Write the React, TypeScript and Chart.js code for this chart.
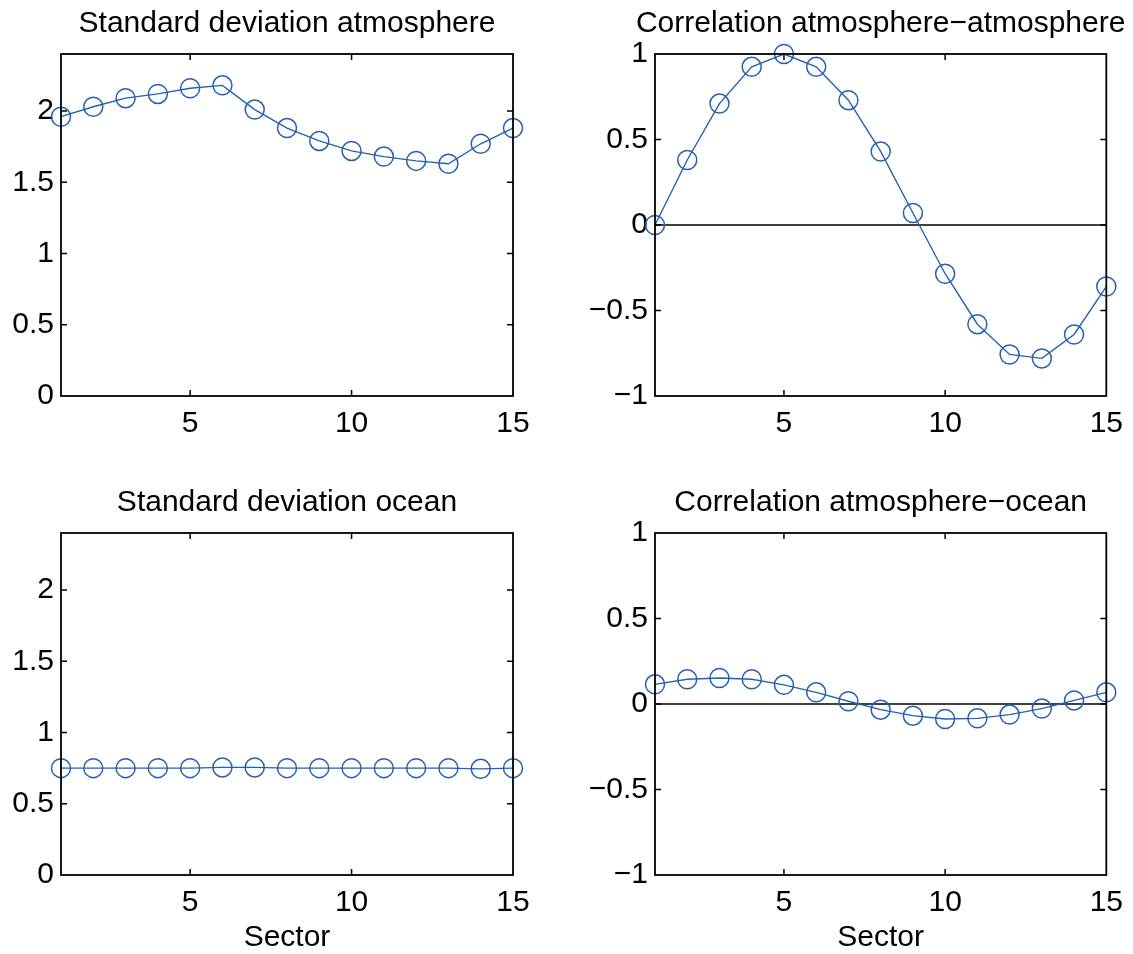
import React, { useEffect, useRef } from 'react';
import { Chart, registerables } from 'chart.js';

Chart.register(...registerables);

// ---- data ----
const SECTORS = [1, 2, 3, 4, 5, 6, 7, 8, 9, 10, 11, 12, 13, 14, 15];
const STD_ATMOSPHERE = [1.96, 2.03, 2.09, 2.12, 2.16, 2.18, 2.01, 1.88, 1.79, 1.72, 1.68, 1.65, 1.63, 1.77, 1.88];
const CORR_ATM_ATM = [0.0, 0.38, 0.71, 0.925, 1.0, 0.925, 0.73, 0.43, 0.07, -0.285, -0.58, -0.757, -0.78, -0.64, -0.36];
const STD_OCEAN = [0.75, 0.75, 0.75, 0.75, 0.75, 0.755, 0.755, 0.75, 0.75, 0.75, 0.75, 0.75, 0.75, 0.745, 0.75];
const CORR_ATM_OCEAN = [0.115, 0.145, 0.152, 0.145, 0.112, 0.068, 0.016, -0.033, -0.068, -0.088, -0.084, -0.062, -0.027, 0.021, 0.068];
const ZERO_LINE_X = [1, 15];
const X_TICKS = [5, 10, 15];
const STD_TICKS = [0, 0.5, 1, 1.5, 2];
const CORR_TICKS = [-1, -0.5, 0, 0.5, 1];
const TITLES = [
  'Standard deviation atmosphere',
  'Correlation atmosphere\u2212atmosphere',
  'Standard deviation ocean',
  'Correlation atmosphere\u2212ocean',
];
const X_TITLE = 'Sector';

const FONT_FAMILY = '"Liberation Sans", Arial, Helvetica, sans-serif';
const BLUE = '#2361b0';
const FONT_SIZE = 30;

const fmt = (v: number) => (v < 0 ? '\u2212' + String(Math.abs(v)) : String(v));

const framePlugin = {
  id: 'frame',
  afterDatasetsDraw(chart: any) {
    const { ctx, chartArea } = chart;
    const { left, right, top, bottom } = chartArea;
    const x = chart.scales.x;
    const y = chart.scales.y;
    const L = 6;
    ctx.save();
    ctx.strokeStyle = '#000';
    ctx.lineWidth = 1.5;
    ctx.beginPath();
    y.ticks.forEach((t: any) => {
      const py = y.getPixelForValue(t.value);
      if (py <= top + 1 || py >= bottom - 1) return;
      ctx.moveTo(left, py);
      ctx.lineTo(left + L, py);
      ctx.moveTo(right, py);
      ctx.lineTo(right - L, py);
    });
    x.ticks.forEach((t: any) => {
      const px = x.getPixelForValue(t.value);
      if (px <= left + 1 || px >= right - 1) return;
      ctx.moveTo(px, bottom);
      ctx.lineTo(px, bottom - L);
      ctx.moveTo(px, top);
      ctx.lineTo(px, top + L);
    });
    ctx.stroke();
    ctx.lineWidth = 1.8;
    ctx.strokeRect(left, top, right - left, bottom - top);
    // panel title, centred over the plot box
    const title = chart.options.plugins.panelTitle;
    if (title && title.text) {
      ctx.fillStyle = '#000';
      ctx.font = `normal ${FONT_SIZE}px ${FONT_FAMILY}`;
      ctx.textAlign = 'center';
      ctx.textBaseline = 'alphabetic';
      ctx.fillText(title.text, (left + right) / 2, top - title.gap);
    }
    ctx.restore();
  },
};

type Spec = {
  title: string;
  values: number[];
  yMin: number;
  yMax: number;
  yTicks: number[];
  zero: boolean;
  xTitle: boolean;
  left: number;
  top: number;
  width: number;
  height: number;
  axisW: number;
  axisH: number;
  padTop: number;
  padRight: number;
  titleGap: number;
};

function Panel({ spec }: { spec: Spec }) {
  const ref = useRef<HTMLCanvasElement>(null);
  useEffect(() => {
    const datasets: any[] = [
      {
        data: SECTORS.map((s, i) => ({ x: s, y: spec.values[i] })),
        borderColor: BLUE,
        borderWidth: 1.4,
        tension: 0,
        pointRadius: 9.5,
        pointHoverRadius: 9.5,
        pointBorderWidth: 1.5,
        pointBorderColor: BLUE,
        pointBackgroundColor: 'rgba(0,0,0,0)',
        order: 1,
        clip: false,
      },
    ];
    if (spec.zero) {
      datasets.push({
        data: ZERO_LINE_X.map((x) => ({ x, y: 0 })),
        borderColor: '#000',
        borderWidth: 1.4,
        pointRadius: 0,
        order: 2,
      });
    }
    const font = { family: FONT_FAMILY, size: FONT_SIZE, weight: 'normal' as const };
    const chart = new Chart(ref.current as HTMLCanvasElement, {
      type: 'line',
      data: { datasets },
      options: {
        responsive: false,
        animation: false,
        devicePixelRatio: 1,
        layout: { padding: { left: 0, top: spec.padTop, right: spec.padRight, bottom: 0 } },
        plugins: {
          legend: { display: false },
          tooltip: { enabled: false },
          title: { display: false },
          panelTitle: { text: spec.title, gap: spec.titleGap },
        },
        scales: {
          x: {
            type: 'linear',
            min: 1,
            max: 15,
            afterBuildTicks: (s: any) => {
              s.ticks = X_TICKS.map((v) => ({ value: v }));
            },
            afterFit: (s: any) => {
              s.height = spec.axisH;
            },
            grid: { display: false, drawTicks: false, tickLength: 0 },
            border: { display: false },
            ticks: {
              color: '#000',
              font,
              padding: 10,
              maxRotation: 0,
              autoSkip: false,
              callback: (v: any) => fmt(Number(v)),
            },
            title: {
              display: spec.xTitle,
              text: X_TITLE,
              color: '#000',
              font,
              padding: { top: 0, bottom: -2 },
            },
          },
          y: {
            type: 'linear',
            min: spec.yMin,
            max: spec.yMax,
            afterBuildTicks: (s: any) => {
              s.ticks = spec.yTicks.map((v) => ({ value: v }));
            },
            afterFit: (s: any) => {
              s.width = spec.axisW;
            },
            grid: { display: false, drawTicks: false, tickLength: 0 },
            border: { display: false },
            ticks: {
              color: '#000',
              font,
              padding: 7,
              autoSkip: false,
              callback: (v: any) => fmt(Number(v)),
            },
          },
        },
      } as any,
      plugins: [framePlugin],
    });
    return () => chart.destroy();
  }, []);
  return (
    <canvas
      ref={ref}
      width={spec.width}
      height={spec.height}
      style={{ position: 'absolute', left: spec.left, top: spec.top, width: spec.width, height: spec.height }}
    />
  );
}

export default function App() {
  const specs: Spec[] = [
    {
      title: TITLES[0], values: STD_ATMOSPHERE, yMin: 0, yMax: 2.4, yTicks: STD_TICKS, zero: false, xTitle: false,
      left: 0, top: 0, width: 566, height: 477, axisW: 61, axisH: 81, padTop: 54, padRight: 53, titleGap: 22,
    },
    {
      title: TITLES[1], values: CORR_ATM_ATM, yMin: -1, yMax: 1, yTicks: CORR_TICKS, zero: true, xTitle: false,
      left: 566, top: 0, width: 567, height: 477, axisW: 89, axisH: 81, padTop: 54, padRight: 26, titleGap: 22,
    },
    {
      title: TITLES[2], values: STD_OCEAN, yMin: 0, yMax: 2.4, yTicks: STD_TICKS, zero: false, xTitle: true,
      left: 0, top: 477, width: 566, height: 477, axisW: 61, axisH: 79, padTop: 56, padRight: 53, titleGap: 22,
    },
    {
      title: TITLES[3], values: CORR_ATM_OCEAN, yMin: -1, yMax: 1, yTicks: CORR_TICKS, zero: true, xTitle: true,
      left: 566, top: 477, width: 567, height: 477, axisW: 89, axisH: 79, padTop: 56, padRight: 26, titleGap: 22,
    },
  ];
  return (
    <div style={{ position: 'absolute', left: 0, top: 0, width: 1133, height: 954, background: '#fff', overflow: 'hidden' }}>
      {specs.map((s, i) => (
        <Panel key={i} spec={s} />
      ))}
    </div>
  );
}
